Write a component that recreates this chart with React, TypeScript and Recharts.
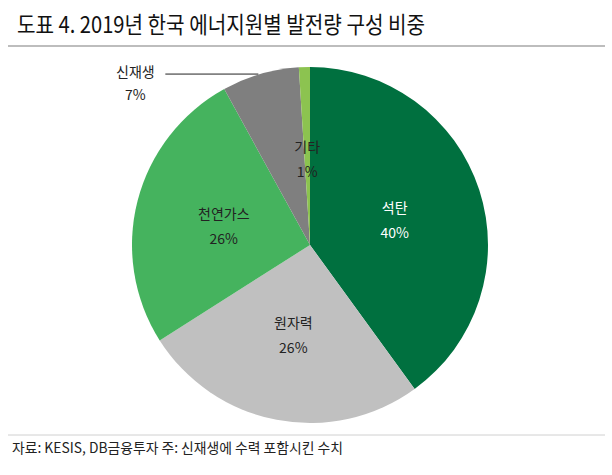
import { PieChart, Pie, Cell } from 'recharts';

// 2019년 한국 에너지원별 발전량 구성 비중 (%)
const SOURCES = ['석탄', '원자력', '천연가스', '신재생', '기타'];
const SHARES = [40, 26, 26, 7, 1];
const COLORS = ['#00703f', '#c0c0c0', '#45b35e', '#7f7f7f', '#8cc350'];
const LABEL_COLORS = ['#ffffff', '#222222', '#222222', '#222222', '#222222'];
const OUTSIDE = [false, false, false, true, false];

const TITLE = '도표 4. 2019년 한국 에너지원별 발전량 구성 비중';
const FOOTNOTE = '자료: KESIS, DB금융투자 주: 신재생에 수력 포함시킨 수치';

const FONT = '"Noto Sans CJK KR", "Noto Sans", sans-serif';
const RAD = Math.PI / 180;

const data = SOURCES.map((name, i) => ({ name, value: SHARES[i] }));

function renderLabel(props: any) {
  const { cx, cy, midAngle, outerRadius, index, name, value } = props;
  if (OUTSIDE[index]) {
    // leader line from the slice edge going left
    const ex = cx + outerRadius * Math.cos(-midAngle * RAD);
    const ey = cy + outerRadius * Math.sin(-midAngle * RAD);
    const lx = ex - 95;
    return (
      <g>
        <line x1={ex - 2} y1={ey} x2={lx} y2={ey} stroke="#222" strokeWidth={1} />
        <text x={lx - 30} y={ey + 3} textAnchor="middle" fill="#222" fontSize={14} fontFamily={FONT}>
          {name}
        </text>
        <text x={lx - 30} y={ey + 26} textAnchor="middle" fill="#222" fontSize={14} fontFamily={FONT}>
          {`${value}%`}
        </text>
      </g>
    );
  }
  const r = outerRadius * 0.5;
  const x = cx + r * Math.cos(-midAngle * RAD);
  const y = cy + r * Math.sin(-midAngle * RAD);
  return (
    <g>
      <text x={x} y={y - 4} textAnchor="middle" fill={LABEL_COLORS[index]} fontSize={14} fontFamily={FONT}>
        {name}
      </text>
      <text x={x} y={y + 21} textAnchor="middle" fill={LABEL_COLORS[index]} fontSize={14} fontFamily={FONT}>
        {`${value}%`}
      </text>
    </g>
  );
}

export default function App() {
  return (
    <div style={{ position: 'absolute', top: 0, left: 0, width: 612, height: 475, background: '#fff' }}>
      <PieChart width={612} height={475} margin={{ top: 0, right: 0, bottom: 0, left: 0 }}>
        <Pie
          data={data}
          dataKey="value"
          nameKey="name"
          cx={310}
          cy={245}
          outerRadius={178}
          startAngle={90}
          endAngle={-270}
          stroke="none"
          labelLine={false}
          label={renderLabel}
          isAnimationActive={false}
        >
          {data.map((entry, index) => (
            <Cell key={`cell-${index}`} fill={COLORS[index]} />
          ))}
        </Pie>
      </PieChart>
      <svg
        width={612}
        height={475}
        style={{ position: 'absolute', top: 0, left: 0, pointerEvents: 'none' }}
      >
        <text
          x={17}
          y={33}
          fontSize={23}
          fontFamily={FONT}
          fill="#111"
          textLength={408}
          lengthAdjust="spacingAndGlyphs"
        >
          {TITLE}
        </text>
        <line x1={8} y1={46} x2={605} y2={46} stroke="#bdbdbd" strokeWidth={2} />
        <line x1={8} y1={435} x2={605} y2={435} stroke="#d0d0d0" strokeWidth={1} />
        <text
          x={12}
          y={453}
          fontSize={14}
          fontFamily={FONT}
          fill="#222"
          textLength={331}
          lengthAdjust="spacingAndGlyphs"
        >
          {FOOTNOTE}
        </text>
      </svg>
    </div>
  );
}
